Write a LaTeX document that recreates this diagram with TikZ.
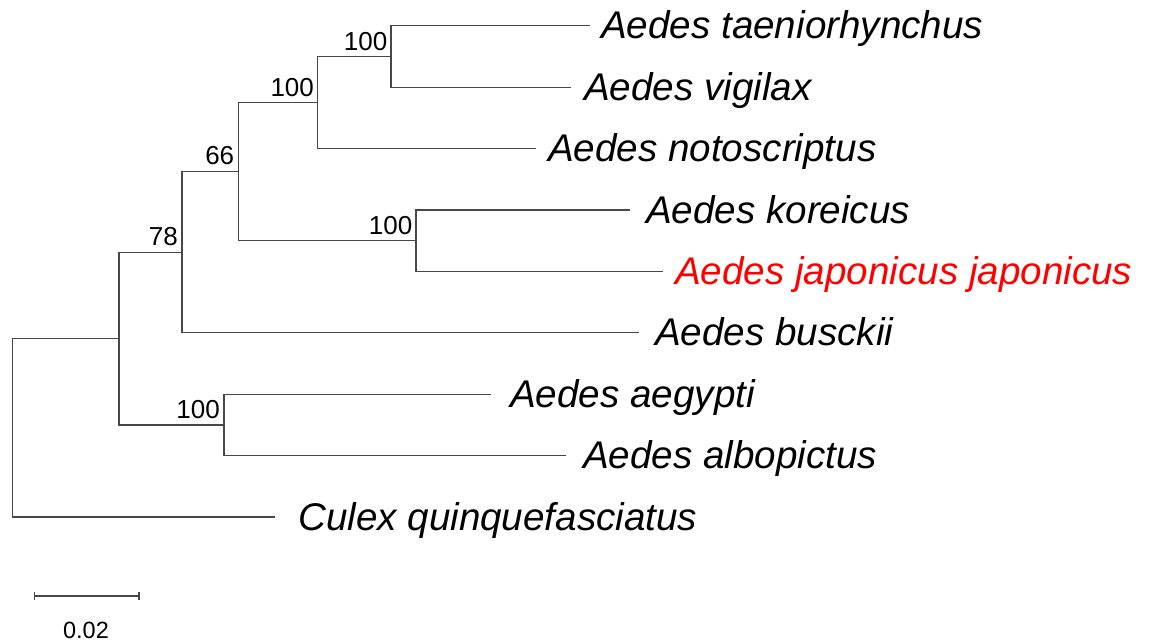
\documentclass[tikz,border=0pt]{standalone}
\usepackage{fontspec}
\setmainfont{Liberation Sans}
\begin{document}
\begin{tikzpicture}[x=1pt,y=-1pt,
  branch/.style={draw=black!72, line width=1.2pt},
  leaf/.style={anchor=base west, inner sep=0pt, font=\fontsize{38.6}{44}\selectfont\itshape},
  boot/.style={anchor=base east, inner sep=0pt, font=\fontsize{26}{30}\selectfont},
  scalelbl/.style={anchor=base, inner sep=0pt, font=\fontsize{23.5}{28}\selectfont}]
\useasboundingbox (0,0) rectangle (1161,643);
% internal nodes
\coordinate (N1) at (391,56.5);
\coordinate (N2) at (317.6,102.2);
\coordinate (N4) at (416,240.7);
\coordinate (N3) at (238.4,171.4);
\coordinate (N5) at (182,252.1);
\coordinate (N7) at (224,424.9);
\coordinate (N6) at (119,338.5);
\coordinate (R) at (12.6,427.7);
% leaf tips
\coordinate (tTae) at (590,25.8);
\coordinate (tVig) at (571,87.2);
\coordinate (tNot) at (536,148.6);
\coordinate (tKor) at (630,210.0);
\coordinate (tJap) at (663,271.4);
\coordinate (tBus) at (639,332.8);
\coordinate (tAeg) at (491,394.2);
\coordinate (tAlb) at (566,455.6);
\coordinate (tCul) at (275,517.0);
% branches
\draw[branch] (N1) |- (tTae);
\draw[branch] (N1) |- (tVig);
\draw[branch] (N2) |- (N1);
\draw[branch] (N2) |- (tNot);
\draw[branch] (N4) |- (tKor);
\draw[branch] (N4) |- (tJap);
\draw[branch] (N3) |- (N2);
\draw[branch] (N3) |- (N4);
\draw[branch] (N5) |- (N3);
\draw[branch] (N5) |- (tBus);
\draw[branch] (N7) |- (tAeg);
\draw[branch] (N7) |- (tAlb);
\draw[branch] (N6) |- (N5);
\draw[branch] (N6) |- (N7);
\draw[branch] (R) |- (N6);
\draw[branch] (R) |- (tCul);
% leaf labels
\node[leaf] (lTae) at (601,38.8) {Aedes taeniorhynchus};
\node[leaf] (lVig) at (584,100.2) {Aedes vigilax};
\node[leaf] (lNot) at (548,161.6) {Aedes notoscriptus};
\node[leaf] (lKor) at (646,223.0) {Aedes koreicus};
\node[leaf, text=red] (lJap) at (675,284.4) {Aedes japonicus japonicus};
\node[leaf] (lBus) at (655,345.8) {Aedes busckii};
\node[leaf] (lAeg) at (510,407.2) {Aedes aegypti};
\node[leaf] (lAlb) at (583,468.6) {Aedes albopictus};
\node[leaf] (lCul) at (298,530.0) {Culex quinquefasciatus};
% bootstrap values
\node[boot] (b1) at ([xshift=-3.5pt,yshift=6pt]N1) {100};
\node[boot] (b2) at ([xshift=-3.5pt,yshift=6pt]N2) {100};
\node[boot] (b3) at ([xshift=-4pt,yshift=6.5pt]N3) {66};
\node[boot] (b4) at ([xshift=-3.5pt,yshift=6pt]N4) {100};
\node[boot] (b5) at ([xshift=-4pt,yshift=6.5pt]N5) {78};
\node[boot] (b7) at ([xshift=-4pt,yshift=6pt]N7) {100};
% scale bar
\coordinate (s1) at (34.4,596);
\coordinate (s2) at (139,596);
\draw[branch] (s1) -- (s2);
\draw[branch] ([yshift=4pt]s1) -- ([yshift=-4pt]s1);
\draw[branch] ([yshift=4pt]s2) -- ([yshift=-4pt]s2);
\node[scalelbl] (sl) at (86,638) {0.02};
\end{tikzpicture}
\end{document}
